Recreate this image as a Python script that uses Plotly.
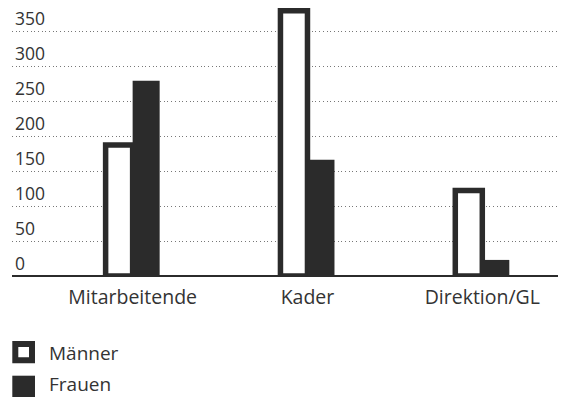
import plotly.graph_objects as go

# Staff headcount by level and gender
categories = ["Mitarbeitende", "Kader", "Direktion/GL"]
maenner = [187, 379, 122]
frauen = [279, 166, 23]
y_ticks = [0, 50, 100, 150, 200, 250, 300, 350]

DARK = "#2b2b2b"
TEXT = "#333333"
FONT = "Open Sans"

W, H = 565, 397
M_L, M_R, M_T, M_B = 12, 7, 3, 120


def px_x(px):
    return (px - M_L) / (W - M_L - M_R)


def px_y(py):
    return (H - M_B - py) / (H - M_T - M_B)


fig = go.Figure()
fig.add_trace(go.Bar(
    name="Männer", x=categories, y=maenner,
    marker=dict(color="white", line=dict(color=DARK, width=5.5)),
    showlegend=False,
))
fig.add_trace(go.Bar(
    name="Frauen", x=categories, y=frauen,
    marker=dict(color=DARK, line=dict(width=0)),
    showlegend=False,
))

# Legend drawn as squares with labels under the chart
fig.add_shape(type="rect", xref="paper", yref="paper",
              x0=px_x(15.3), x1=px_x(32), y0=px_y(360.3), y1=px_y(344),
              line=dict(color=DARK, width=6), fillcolor="white")
fig.add_shape(type="rect", xref="paper", yref="paper",
              x0=px_x(12.3), x1=px_x(35), y0=px_y(398.5), y1=px_y(375.7),
              line=dict(width=0), fillcolor=DARK)
for label, cy in (("Männer", 352.5), ("Frauen", 384.3)):
    fig.add_annotation(text=label, xref="paper", yref="paper",
                       x=px_x(47), y=px_y(cy), xanchor="left", yanchor="middle",
                       showarrow=False, font=dict(family=FONT, size=19, color=TEXT))

fig.update_layout(
    width=W, height=H,
    margin=dict(l=M_L, r=M_R, t=M_T, b=M_B, pad=0),
    paper_bgcolor="white", plot_bgcolor="white",
    barmode="group", bargap=0.691, bargroupgap=0,
    showlegend=False,
    font=dict(family=FONT, color=TEXT),
)
fig.update_xaxes(
    type="category", range=[-0.69, 2.433],
    showgrid=False, showline=False, zeroline=False, ticks="",
    tickfont=dict(family=FONT, size=19.5, color=TEXT),
    ticklabelstandoff=6,
)
fig.update_yaxes(
    range=[-1.4, 390], tickvals=y_ticks, ticktext=[str(v) for v in y_ticks],
    showgrid=True, gridcolor="#777777", gridwidth=1, griddash="1px,2.7px",
    zeroline=True, zerolinecolor=DARK, zerolinewidth=2,
    showline=False, ticks="",
    ticklabelposition="inside top",
    tickfont=dict(family=FONT, size=17.5, color=TEXT),
)

fig.write_html("out.html")
